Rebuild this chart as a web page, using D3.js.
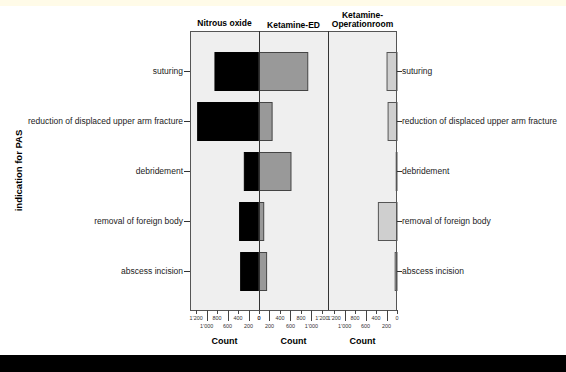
<!DOCTYPE html>
<html>
<head>
<meta charset="utf-8">
<script src="https://cdn.jsdelivr.net/npm/d3@7"></script>
<style>
  body { margin: 0; background: #fff; }
  svg text { font-family: "Liberation Sans", Arial, sans-serif; }
</style>
</head>
<body>
<div id="chart"></div>
<script>
// data
const categories = ["suturing", "reduction of displaced upper arm fracture", "debridement",
                    "removal of foreign body", "abscess incision"];
const groups = ["Nitrous oxide", "Ketamine-ED", "Ketamine-Operationroom"];
const nitrousOxide = [840, 1170, 280, 370, 350];
const ketamineED = [930, 250, 610, 90, 145];
const ketamineOR = [190, 170, 15, 355, 35];
const tickValues = [0, 200, 400, 600, 800, 1000, 1200];

const width = 566, height = 372;
const plot = {left: 190, right: 397, top: 31, bottom: 310};

const svg = d3.select('#chart').append('svg')
    .attr('width', width)
    .attr('height', height);

// top cream strip and bottom black band
svg.append('rect').attr('x', 0).attr('y', 0).attr('width', width).attr('height', 6).attr('fill', '#fffbe8');
svg.append('rect').attr('x', 0).attr('y', 355).attr('width', width).attr('height', 17).attr('fill', '#000');

// panels
const panelX = d3.scaleBand().domain(groups).range([plot.left, plot.right]);
const pw = panelX.bandwidth();
const maxVal = 1316;
// panel 1 & 3 grow to the left, panel 2 to the right
const xScales = [
    d3.scaleLinear().domain([0, maxVal]).range([panelX(groups[0]) + pw, panelX(groups[0])]),
    d3.scaleLinear().domain([0, maxVal]).range([panelX(groups[1]), panelX(groups[1]) + pw]),
    d3.scaleLinear().domain([0, maxVal]).range([panelX(groups[2]) + pw, panelX(groups[2])])
];
const series = [nitrousOxide, ketamineED, ketamineOR];
const fills = ['#000', '#999', '#cfcfcf'];
const strokes = ['#000', '#444', '#555'];

const y = d3.scaleBand().domain(categories)
    .range([plot.top, plot.bottom + 2])
    .paddingInner(0.24).paddingOuter(0.43);

svg.append('rect')
    .attr('x', plot.left).attr('y', plot.top)
    .attr('width', plot.right - plot.left).attr('height', plot.bottom - plot.top)
    .attr('fill', '#efefef');

// bars
series.forEach((vals, i) => {
    const xs = xScales[i];
    svg.append('g').selectAll('rect')
        .data(vals)
        .join('rect')
            .attr('x', d => Math.min(xs(0), xs(d)))
            .attr('y', (d, j) => y(categories[j]))
            .attr('width', d => Math.abs(xs(d) - xs(0)))
            .attr('height', y.bandwidth())
            .attr('fill', fills[i])
            .attr('stroke', strokes[i])
            .attr('stroke-width', 1);
});

// panel frame + dividers
svg.append('rect')
    .attr('x', plot.left + 0.5).attr('y', plot.top + 0.5)
    .attr('width', plot.right - plot.left - 1).attr('height', plot.bottom - plot.top)
    .attr('fill', 'none').attr('stroke', '#555');
groups.slice(1).forEach(g => {
    svg.append('line')
        .attr('x1', panelX(g) + 0.5).attr('x2', panelX(g) + 0.5)
        .attr('y1', plot.top).attr('y2', plot.bottom)
        .attr('stroke', '#333');
});

// panel titles
const titleG = svg.append('g').attr('font-size', 8.5).attr('font-weight', 'bold').attr('text-anchor', 'middle');
titleG.append('text').attr('x', panelX(groups[0]) + pw / 2).attr('y', 26).text(groups[0]);
titleG.append('text').attr('x', panelX(groups[1]) + pw / 2).attr('y', 27.5).text(groups[1]);
const t3 = titleG.append('text').attr('x', panelX(groups[2]) + pw / 2).attr('y', 17.5);
t3.append('tspan').text('Ketamine-');
t3.append('tspan').attr('x', panelX(groups[2]) + pw / 2).attr('dy', 9).text('Operationroom');

// category axes on both sides
const fmt = v => d3.format(',')(v).replace(',', '\u2019');
const leftAxis = svg.append('g')
    .attr('transform', `translate(${plot.left},0)`)
    .call(d3.axisLeft(y).tickSize(6).tickPadding(1));
const rightAxis = svg.append('g')
    .attr('transform', `translate(${plot.right},0)`)
    .call(d3.axisRight(y).tickSize(5).tickPadding(0));
[leftAxis, rightAxis].forEach(a => {
    a.select('.domain').remove();
    a.selectAll('line').attr('stroke', '#333');
    a.selectAll('text').attr('font-size', 8.5).attr('fill', '#222')
        .style('font-family', '"Liberation Sans", Arial, sans-serif');
});

// count axes, labels staggered in two rows
xScales.forEach((xs, i) => {
    const g = svg.append('g');
    g.selectAll('line')
        .data(tickValues)
        .join('line')
            .attr('x1', d => Math.round(xs(d)) + 0.5)
            .attr('x2', d => Math.round(xs(d)) + 0.5)
            .attr('y1', plot.bottom)
            .attr('y2', (d, k) => plot.bottom + (k % 2 ? 11 : 4))
            .attr('stroke', '#444');
    g.selectAll('text')
        .data(tickValues)
        .join('text')
            .attr('x', d => xs(d))
            .attr('y', (d, k) => plot.bottom + (k % 2 ? 17.5 : 9.5))
            .attr('text-anchor', 'middle')
            .attr('font-size', 5.4)
            .attr('fill', '#333')
            .text(fmt);
    svg.append('text')
        .attr('x', panelX(groups[i]) + pw / 2)
        .attr('y', 344)
        .attr('text-anchor', 'middle')
        .attr('font-size', 9)
        .attr('font-weight', 'bold')
        .text('Count');
});

// y title
svg.append('text')
    .attr('transform', `translate(22, ${(plot.top + plot.bottom) / 2}) rotate(-90)`)
    .attr('text-anchor', 'middle')
    .attr('font-size', 9.5)
    .attr('font-weight', 'bold')
    .text('indication for PAS');
</script>
</body>
</html>
